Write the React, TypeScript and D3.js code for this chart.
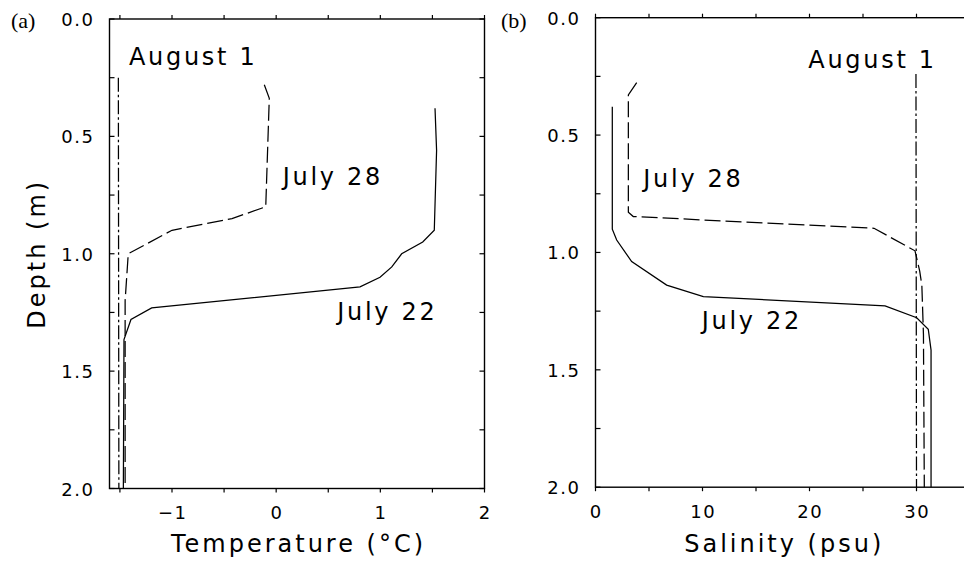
import React from "react";
import * as d3 from "d3";

// ---------- data ----------
// Panel (a) temperature profiles: [temperature °C, depth m]
const tempJul22: [number, number][] = [
  [1.525, 0.38], [1.54, 0.56], [1.518, 0.9], [1.407, 0.95], [1.205, 1.0],
  [1.11, 1.056], [0.997, 1.1], [0.805, 1.141], [-1.195, 1.231], [-1.394, 1.28],
  [-1.461, 1.366], [-1.467, 2.0],
];
const tempJul28: [number, number][] = [
  [-0.114, 0.28], [-0.066, 0.338], [-0.1, 0.8], [-0.424, 0.85], [-1.0, 0.9],
  [-1.42, 1.0], [-1.45, 1.2], [-1.45, 2.0],
];
const tempAug1: [number, number][] = [[-1.515, 0.25], [-1.51, 2.0]];

// Panel (b) salinity profiles: [salinity psu, depth m]
const salJul22: [number, number][] = [
  [1.57, 0.379], [1.57, 0.901], [1.98, 0.947], [3.38, 1.039], [6.65, 1.139],
  [10.08, 1.188], [27.06, 1.228], [30.02, 1.278], [31.1, 1.327], [31.36, 1.416],
  [31.36, 2.0],
];
const salJul28: [number, number][] = [
  [3.85, 0.277], [3.07, 0.329], [3.07, 0.829], [3.53, 0.847], [26.03, 0.897],
  [29.86, 0.993], [30.3, 1.08], [30.5, 1.14], [30.65, 1.35], [30.73, 2.0],
];
const salAug1: [number, number][] = [[29.95, 0.24], [30.0, 2.0]];

// labels: [text, x value, depth of baseline]
const tempLabels: [string, number, number][] = [
  ["August 1", -1.413, 0.196],
  ["July 28", 0.063, 0.707],
  ["July 22", 0.587, 1.282],
];
const salLabels: [string, number, number][] = [
  ["August 1", 19.89, 0.2155],
  ["July 28", 4.47, 0.72],
  ["July 22", 9.93, 1.326],
];

// ticks
const depthTicksMinor = [0, 0.25, 0.5, 0.75, 1.0, 1.25, 1.5, 1.75, 2.0];
const depthTickLabels = [0, 0.5, 1.0, 1.5, 2.0];
const tempTicks = [-1.5, -1, -0.5, 0, 0.5, 1, 1.5, 2];
const tempTickLabels = [-1, 0, 1, 2];
const salTicks = [0, 5, 10, 15, 20, 25, 30, 35];
const salTickLabels = [0, 10, 20, 30];

const FONT = "'DejaVu Sans', sans-serif";

type PanelProps = {
  x: d3.ScaleLinear<number, number>;
  y: d3.ScaleLinear<number, number>;
  ticks: number[];
  tickLabels: number[];
  series: { data: [number, number][]; dash: string | undefined }[];
  labels: [string, number, number][];
  title: string;
  tag: string;
  tagX: number;
  fmtX: (v: number) => string;
  rightAxis: boolean;
};

function Panel({ x, y, ticks, tickLabels, series, labels, title, tag, tagX, fmtX, rightAxis }: PanelProps) {
  const [x0, x1] = x.range();
  const [y0, y1] = y.range();
  const line = d3
    .line<[number, number]>()
    .x((d) => x(d[0]))
    .y((d) => y(d[1]));
  return (
    <g>
      <clipPath id={"clip" + tag}>
        <rect x={x0} y={y0} width={x1 - x0} height={y1 - y0} />
      </clipPath>
      {series.map((s, i) => (
        <path
          key={i}
          d={line(s.data) || ""}
          fill="none"
          stroke="#000"
          strokeWidth={1.25}
          strokeDasharray={s.dash}
          clipPath={`url(#clip${tag})`}
        />
      ))}
      <rect x={x0} y={y0} width={x1 - x0} height={y1 - y0} fill="none" stroke="#000" strokeWidth={1.4} />
      {depthTicksMinor.map((d) => (
        <g key={"yt" + d}>
          <line x1={x0} x2={x0 + 5} y1={y(d)} y2={y(d)} stroke="#000" strokeWidth={1.2} />
          {rightAxis && <line x1={x1} x2={x1 - 5} y1={y(d)} y2={y(d)} stroke="#000" strokeWidth={1.2} />}
        </g>
      ))}
      {depthTickLabels.map((d) => (
        <text
          key={"yl" + d}
          x={x0 - 15}
          y={y(d) + 7}
          textAnchor="end"
          fontFamily={FONT}
          fontSize={18}
          style={{ letterSpacing: "1.5px" }}
        >
          {d.toFixed(1)}
        </text>
      ))}
      {ticks.map((t) => (
        <g key={"xt" + t}>
          <line x1={x(t)} x2={x(t)} y1={y0} y2={y0 - 4} stroke="#000" strokeWidth={1.2} />
          <line x1={x(t)} x2={x(t)} y1={y1} y2={y1 + 4} stroke="#000" strokeWidth={1.2} />
        </g>
      ))}
      {tickLabels.map((t) => (
        <text
          key={"xl" + t}
          x={x(t) + 0.75}
          y={y1 + 30.5}
          textAnchor="middle"
          fontFamily={FONT}
          fontSize={18}
          style={{ letterSpacing: "1.5px" }}
        >
          {fmtX(t)}
        </text>
      ))}
      {labels.map(([txt, lx, ld]) => (
        <text
          key={txt}
          x={x(lx)}
          y={y(ld)}
          fontFamily={FONT}
          fontSize={24}
          style={{ letterSpacing: "2.7px", whiteSpace: "pre" }}
        >
          {txt}
        </text>
      ))}
      <text
        x={(x0 + Math.min(x1, 970)) / 2 + 1.5}
        y={552}
        textAnchor="middle"
        fontFamily={FONT}
        fontSize={24}
        style={{ letterSpacing: "3px" }}
      >
        {title}
      </text>
      <text x={tagX} y={28} fontFamily="'Liberation Serif', 'Times New Roman', serif" fontSize={22}>
        {tag}
      </text>
    </g>
  );
}

export default function App() {
  const xA = d3.scaleLinear().domain([-1.6, 2.0]).range([109.5, 484.5]);
  const yA = d3.scaleLinear().domain([0, 2]).range([19, 488.5]);
  const xB = d3.scaleLinear().domain([0, 35]).range([595.5, 970]);
  const yB = d3.scaleLinear().domain([0, 2]).range([17.7, 487.2]);
  const dashed = "16,5";
  const dashDot = "14,3,2.5,3";
  const fmtT = (v: number) => (v < 0 ? "\u2212" + Math.abs(v) : String(v));
  return (
    <svg
      width={964}
      height={565}
      style={{ position: "absolute", left: 0, top: 0, background: "#fff" }}
    >
      <rect x={0} y={0} width={964} height={565} fill="#fff" />
      <Panel
        x={xA}
        y={yA}
        ticks={tempTicks}
        tickLabels={tempTickLabels}
        series={[
          { data: tempJul22, dash: undefined },
          { data: tempJul28, dash: dashed },
          { data: tempAug1, dash: dashDot },
        ]}
        labels={tempLabels}
        title="Temperature (°C)"
        tag="(a)"
        tagX={11}
        fmtX={fmtT}
        rightAxis={true}
      />
      <Panel
        x={xB}
        y={yB}
        ticks={salTicks}
        tickLabels={salTickLabels}
        series={[
          { data: salJul22, dash: undefined },
          { data: salJul28, dash: dashed },
          { data: salAug1, dash: dashDot },
        ]}
        labels={salLabels}
        title="Salinity (psu)"
        tag="(b)"
        tagX={501}
        fmtX={(v) => String(v)}
        rightAxis={false}
      />
      <text
        transform={`translate(45,${(yA(0) + yA(2)) / 2}) rotate(-90)`}
        textAnchor="middle"
        fontFamily={FONT}
        fontSize={24}
        style={{ letterSpacing: "3px" }}
      >
        Depth (m)
      </text>
    </svg>
  );
}
